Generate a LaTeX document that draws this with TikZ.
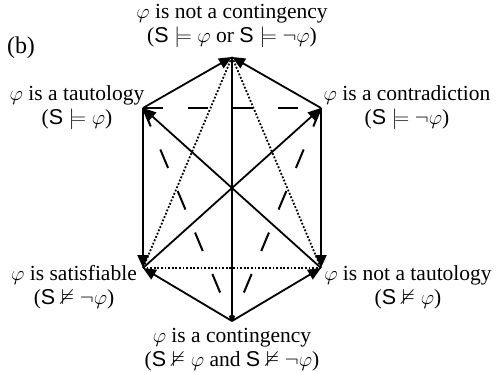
\documentclass[tikz,border=0pt]{standalone}
\usepackage{amssymb}
\usepackage{fontspec}
\setmainfont{Liberation Serif}
\newfontfamily\sansS{Liberation Sans}
\usetikzlibrary{arrows.meta}
\newcommand{\Sset}{\mbox{\sansS S}}

\begin{document}
\begin{tikzpicture}[x=1pt, y=-1pt,
    edge/.style={line width=1.8pt},
    imp/.style={edge, -{Triangle[length=13pt, width=11pt]}},
    dotline/.style={line width=1.8pt, dash pattern=on 1.8pt off 1.8pt},
    dashline/.style={line width=2pt, dash pattern=on 20pt off 25pt},
    lbl/.style={align=center, font=\fontsize{21.5}{24}\selectfont, inner sep=0pt}]
    \useasboundingbox (0,0) rectangle (496,372);

    % --- Vertices of the hexagon ---
    \coordinate (top) at (232,57);
    \coordinate (taut) at (143,108);
    \coordinate (contra) at (321,108);
    \coordinate (sat) at (143,268);
    \coordinate (ntaut) at (321,268);
    \coordinate (bot) at (232,321);

    % --- Dotted lines ---
    \draw[dotline] (top) -- (sat);
    \draw[dotline] (top) -- (ntaut);
    \draw[dotline] (sat) -- (ntaut);

    % --- Dashed lines ---
    \draw[dashline] (taut) -- (contra);
    \draw[dashline] (taut) -- (bot);
    \draw[dashline] (contra) -- (bot);

    % --- Solid lines ---
    \draw[edge] (bot) -- (top);
    \draw[imp] (ntaut) -- (taut);
    \draw[imp] (sat) -- (contra);
    \draw[imp] (taut) -- (top);
    \draw[imp] (contra) -- (top);
    \draw[imp] (taut) -- (sat);
    \draw[imp] (contra) -- (ntaut);
    \draw[imp] (bot) -- (sat);
    \draw[imp] (bot) -- (ntaut);

    % --- Labels ---
    \node[font=\fontsize{24}{28}\selectfont, inner sep=0pt] (panel) at (21,48) {(b)};
    \node[lbl] (ltop) at (232,26) {$\varphi$ is not a contingency\\($\Sset\models\varphi$ or $\Sset\models\neg\varphi$)};
    \node[lbl] (ltaut) at (77,108) {$\varphi$ is a tautology\\($\Sset\models\varphi$)};
    \node[lbl] (lcontra) at (407,108) {$\varphi$ is a contradiction\\($\Sset\models\neg\varphi$)};
    \node[lbl] (lsat) at (74,287) {$\varphi$ is satisfiable\\($\Sset\nvDash\neg\varphi$)};
    \node[lbl] (lntaut) at (408,287) {$\varphi$ is not a tautology\\($\Sset\nvDash\varphi$)};
    \node[lbl] (lbot) at (232,350) {$\varphi$ is a contingency\\($\Sset\nvDash\varphi$ and $\Sset\nvDash\neg\varphi$)};
\end{tikzpicture}
\end{document}
